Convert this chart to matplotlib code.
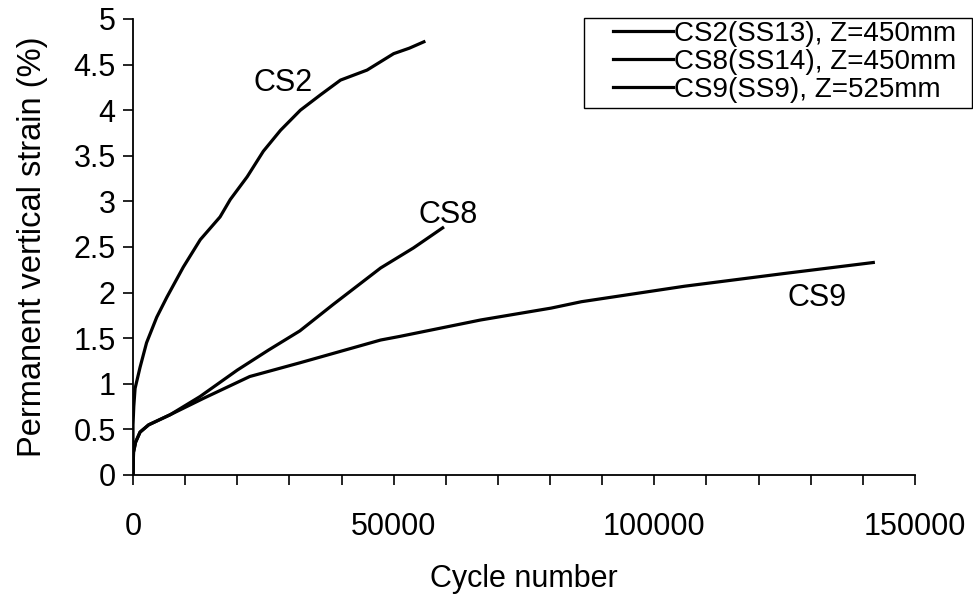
import matplotlib.pyplot as plt
from matplotlib.patches import Rectangle
from matplotlib.ticker import MultipleLocator

plt.rcParams['font.family'] = ['Liberation Sans', 'DejaVu Sans']

# values
cs2_x = [0, 0, 150, 400, 1350, 2600, 4550, 6500, 9650, 12900, 16700, 18650,
         21900, 25000, 28300, 32100, 36000, 39800, 44900, 50000, 53000, 55800]
cs2_y = [0, 0.55, 0.75, 0.95, 1.18, 1.45, 1.73, 1.95, 2.28, 2.58, 2.83, 3.02,
         3.27, 3.55, 3.78, 4.0, 4.17, 4.33, 4.44, 4.62, 4.68, 4.75]

cs8_x = [0, 100, 500, 1350, 3000, 7100, 12850, 20000, 26000, 32000, 38400,
         47500, 53800, 59400]
cs8_y = [0, 0.25, 0.36, 0.47, 0.55, 0.66, 0.86, 1.15, 1.37, 1.58, 1.87,
         2.27, 2.49, 2.71]

cs9_x = [0, 100, 500, 1350, 3000, 7100, 13500, 22400, 32000, 47500, 51200,
         66700, 80200, 86000, 105800, 125000, 142000]
cs9_y = [0, 0.25, 0.36, 0.47, 0.55, 0.66, 0.84, 1.08, 1.23, 1.48, 1.52,
         1.70, 1.83, 1.90, 2.07, 2.21, 2.33]

series_labels = ['CS2(SS13), Z=450mm', 'CS8(SS14), Z=450mm', 'CS9(SS9), Z=525mm']
curve_names = ['CS2', 'CS8', 'CS9']
name_pos = [(28800, 4.30), (60400, 2.85), (131200, 1.94)]

W, H = 973, 596
fig = plt.figure(figsize=(W / 100, H / 100), dpi=100)
ax = fig.add_axes([133 / W, 1 - 475 / H, 782 / W, 456 / H])

for xs, ys, lab in zip([cs2_x, cs8_x, cs9_x], [cs2_y, cs8_y, cs9_y], series_labels):
    ax.plot(xs, ys, color='black', lw=2.3, label=lab)

for name, (px, py) in zip(curve_names, name_pos):
    ax.text(px, py, name, fontsize=22, ha='center', va='center')

ax.set_xlim(0, 150000)
ax.set_ylim(0, 5)
ax.xaxis.set_major_locator(MultipleLocator(50000))
ax.xaxis.set_minor_locator(MultipleLocator(10000))
ax.set_yticks([0, 0.5, 1, 1.5, 2, 2.5, 3, 3.5, 4, 4.5, 5],
              ['0', '0.5', '1', '1.5', '2', '2.5', '3', '3.5', '4', '4.5', '5'])
ax.tick_params(which='both', direction='out', length=7.5, width=1.2,
               labelsize=22, color='black')
ax.tick_params(axis='x', pad=19)
ax.tick_params(axis='y', pad=5)
for s in ['top', 'right']:
    ax.spines[s].set_visible(False)
for s in ['left', 'bottom']:
    ax.spines[s].set_linewidth(1.3)

ax.set_xlabel('Cycle number', fontsize=22, labelpad=16)
ax.set_ylabel('Permanent vertical strain (%)', fontsize=23.5, labelpad=18.5)

# legend box drawn as a plain rectangle, entries placed inside it
fig.patches.append(Rectangle((584 / W, 1 - 108 / H), 388 / W, 90 / H,
                             transform=fig.transFigure, fill=False,
                             edgecolor='black', linewidth=1.0))
leg = ax.legend(loc='upper left', bbox_to_anchor=(610 / W, 1 - 18 / H),
                bbox_transform=fig.transFigure, fontsize=20, frameon=False,
                handlelength=2.15, handletextpad=0.05,
                labelspacing=0.07, borderpad=0.1, borderaxespad=0)

fig.savefig('out.png', dpi=100)
